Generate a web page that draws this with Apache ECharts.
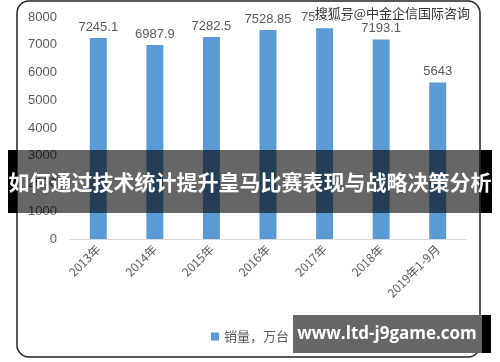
<!DOCTYPE html>
<html><head><meta charset="utf-8">
<script src="https://cdn.jsdelivr.net/npm/echarts@6/dist/echarts.min.js"></script>
<style>html,body{margin:0;padding:0;background:#fff}#c{width:500px;height:362px}</style>
</head><body><div id="c"></div>
<script>
const categories = ['2013年','2014年','2015年','2016年','2017年','2018年','2019年1-9月'];
const sales = [7245.1, 6987.9, 7282.5, 7528.85, 7591.82, 7193.1, 5643];
const yTicks = [0, 1000, 2000, 3000, 4000, 5000, 6000, 7000, 8000];
const seriesName = '销量，万台';
const titleText = '如何通过技术统计提升皇马比赛表现与战略决策分析';
const watermark = '搜狐号@中金企信国际咨询';
const urlText = 'www.ltd-j9game.com';

const chart = echarts.init(document.getElementById('c'));
const txt = '#595959';
chart.setOption({
  animation: false,
  grid: {left: 70, right: 34, top: 17, bottom: 123},
  legend: {
    bottom: 14, left: 'center', itemWidth: 8, itemHeight: 8, itemGap: 6,
    icon: 'rect',
    textStyle: {color: txt, fontSize: 13, fontFamily: 'Noto Sans CJK SC'},
    data: [seriesName]
  },
  xAxis: {
    type: 'category', data: categories,
    axisLine: {lineStyle: {color: '#d9d9d9'}},
    axisTick: {show: false},
    axisLabel: {rotate: 45, color: txt, fontSize: 12, interval: 0, margin: 8, fontFamily: 'Noto Sans CJK SC'}
  },
  yAxis: {
    type: 'value', min: yTicks[0], max: yTicks[yTicks.length-1], interval: 1000,
    splitLine: {show: false},
    axisLine: {show: false}, axisTick: {show: false},
    axisLabel: {color: txt, fontSize: 13, margin: 13, fontFamily: 'Liberation Sans', formatter: v => String(v)}
  },
  series: [{
    name: seriesName, type: 'bar', data: sales, barWidth: '30%',
    itemStyle: {color: '#5b9bd5'},
    label: {show: true, position: 'top', distance: 4, color: txt, fontSize: 13, fontFamily: 'Liberation Sans'}
  }],
  graphic: [
    {type: 'rect', shape: {x: 17, y: 1, width: 463, height: 356, r: 12}, style: {fill: 'none', stroke: '#222', lineWidth: 1.5}, z: 100},
    {type: 'rect', shape: {x: 8, y: 150, width: 9, height: 63}, style: {fill: '#000'}, z: 101},
    {type: 'rect', shape: {x: 481, y: 150, width: 11, height: 63}, style: {fill: '#000'}, z: 101},
    {type: 'rect', shape: {x: 17, y: 150, width: 464, height: 63}, style: {fill: 'rgba(0,0,0,0.6)'}, z: 101},
    {type: 'text', x: 250, y: 182, style: {text: titleText, fill: '#fff', font: 'bold 21px "Noto Sans CJK SC"', textAlign: 'center', textVerticalAlign: 'middle'}, z: 102},
    {type: 'text', x: 470, y: 13, style: {text: watermark, fill: '#333', stroke: '#fff', lineWidth: 2, font: '13px "Noto Sans CJK SC"', textAlign: 'right', textVerticalAlign: 'middle'}, z: 102},
    {type: 'rect', shape: {x: 293, y: 315, width: 189, height: 38}, style: {fill: '#666'}, z: 101},
    {type: 'rect', shape: {x: 482, y: 315, width: 9, height: 38}, style: {fill: '#000'}, z: 101},
    {type: 'text', x: 387, y: 334, style: {text: urlText, fill: '#fff', font: 'bold 17px "Open Sans"', textAlign: 'center', textVerticalAlign: 'middle'}, z: 102}
  ]
});
</script></body></html>
